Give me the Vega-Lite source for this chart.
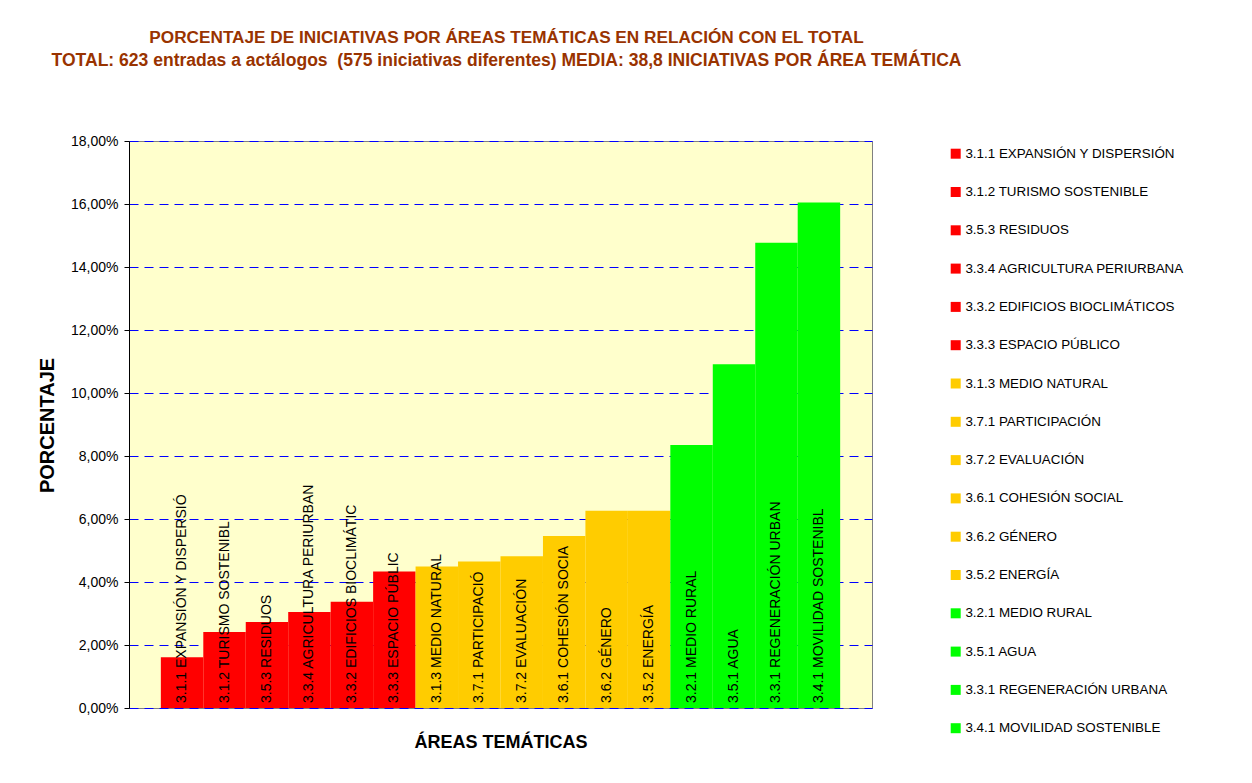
{
  "$schema": "https://vega.github.io/schema/vega-lite/v6.json",
  "width": 743,
  "height": 567,
  "autosize": {"type": "none"},
  "padding": {"left": 129, "top": 141, "right": 380, "bottom": 75},
  "background": "white",
  "title": {
    "text": "PORCENTAJE DE INICIATIVAS POR ÁREAS TEMÁTICAS EN RELACIÓN CON EL TOTAL",
    "subtitle": "TOTAL: 623 entradas a actálogos \u00a0(575 iniciativas diferentes) MEDIA: 38,8 INICIATIVAS POR ÁREA TEMÁTICA",
    "color": "#993300",
    "font": "Liberation Sans",
    "fontSize": 17.2,
    "fontWeight": "bold",
    "subtitleColor": "#993300",
    "subtitleFont": "Liberation Sans",
    "subtitleFontSize": 17.55,
    "subtitleFontWeight": "bold",
    "subtitlePadding": 6,
    "anchor": "middle",
    "frame": "group",
    "dx": 6,
    "offset": 64
  },
  "config": {
    "view": {"fill": "#FFFFCC", "stroke": "#808080", "strokeWidth": 1},
    "font": "Liberation Sans",
    "axisY": {
      "labelFont": "Liberation Sans",
      "labelFontSize": 14,
      "labelColor": "black",
      "labelPadding": 6,
      "tickColor": "black",
      "tickSize": 5,
      "domainColor": "black",
      "grid": true,
      "gridColor": "#0000FF",
      "gridDash": [9, 6],
      "gridOpacity": 1,
      "gridWidth": 1,
      "titleFont": "Liberation Sans",
      "titleFontSize": 20,
      "titleFontWeight": "bold",
      "titleColor": "black",
      "titleBaseline": "alphabetic",
      "titleX": -76,
      "titleY": 284
    }
  },
  "data": {
    "values": [
      {"area": "3.1.1 EXPANSIÓN Y DISPERSIÓN", "label": "3.1.1 EXPANSIÓN Y DISPERSIÓ", "pct": 0.0161, "grupo": "rojo"},
      {"area": "3.1.2 TURISMO SOSTENIBLE", "label": "3.1.2 TURISMO SOSTENIBL", "pct": 0.0241, "grupo": "rojo"},
      {"area": "3.5.3 RESIDUOS", "label": "3.5.3 RESIDUOS", "pct": 0.0273, "grupo": "rojo"},
      {"area": "3.3.4 AGRICULTURA PERIURBANA", "label": "3.3.4 AGRICULTURA PERIURBAN", "pct": 0.0305, "grupo": "rojo"},
      {"area": "3.3.2 EDIFICIOS BIOCLIMÁTICOS", "label": "3.3.2 EDIFICIOS BIOCLIMÁTIC", "pct": 0.0337, "grupo": "rojo"},
      {"area": "3.3.3 ESPACIO PÚBLICO", "label": "3.3.3 ESPACIO PÚBLIC", "pct": 0.0433, "grupo": "rojo"},
      {"area": "3.1.3 MEDIO NATURAL", "label": "3.1.3 MEDIO NATURAL", "pct": 0.0449, "grupo": "amarillo"},
      {"area": "3.7.1 PARTICIPACIÓN", "label": "3.7.1 PARTICIPACIÓ", "pct": 0.0465, "grupo": "amarillo"},
      {"area": "3.7.2 EVALUACIÓN", "label": "3.7.2 EVALUACIÓN", "pct": 0.0482, "grupo": "amarillo"},
      {"area": "3.6.1 COHESIÓN SOCIAL", "label": "3.6.1 COHESIÓN SOCIA", "pct": 0.0546, "grupo": "amarillo"},
      {"area": "3.6.2 GÉNERO", "label": "3.6.2 GÉNERO", "pct": 0.0626, "grupo": "amarillo"},
      {"area": "3.5.2 ENERGÍA", "label": "3.5.2 ENERGÍA", "pct": 0.0626, "grupo": "amarillo"},
      {"area": "3.2.1 MEDIO RURAL", "label": "3.2.1 MEDIO RURAL", "pct": 0.0835, "grupo": "verde"},
      {"area": "3.5.1 AGUA", "label": "3.5.1 AGUA", "pct": 0.1091, "grupo": "verde"},
      {"area": "3.3.1 REGENERACIÓN URBANA", "label": "3.3.1 REGENERACIÓN URBAN", "pct": 0.1477, "grupo": "verde"},
      {"area": "3.4.1 MOVILIDAD SOSTENIBLE", "label": "3.4.1 MOVILIDAD SOSTENIBL", "pct": 0.1605, "grupo": "verde"}
    ]
  },
  "encoding": {
    "x": {
      "field": "area",
      "type": "nominal",
      "sort": null,
      "scale": {"paddingInner": 0, "paddingOuter": 0.75},
      "axis": {
        "labels": false,
        "ticks": false,
        "domain": false,
        "title": "ÁREAS TEMÁTICAS",
        "titleFont": "Liberation Sans",
        "titleFontSize": 18,
        "titleFontWeight": "bold",
        "titleColor": "black",
        "titleBaseline": "alphabetic",
        "titleY": 39
      }
    }
  },
  "layer": [
    {
      "mark": {"type": "bar"},
      "encoding": {
        "y": {
          "field": "pct",
          "type": "quantitative",
          "title": "PORCENTAJE",
          "scale": {"domain": [0, 0.18], "nice": false},
          "axis": {
            "values": [0, 0.02, 0.04, 0.06, 0.08, 0.1, 0.12, 0.14, 0.16, 0.18],
            "labelExpr": "replace(format(datum.value, '.2%'), '.', ',')"
          }
        },
        "color": {
          "field": "area",
          "type": "nominal",
          "sort": null,
          "scale": {
            "domain": [
              "3.1.1 EXPANSIÓN Y DISPERSIÓN", "3.1.2 TURISMO SOSTENIBLE", "3.5.3 RESIDUOS", "3.3.4 AGRICULTURA PERIURBANA",
              "3.3.2 EDIFICIOS BIOCLIMÁTICOS", "3.3.3 ESPACIO PÚBLICO", "3.1.3 MEDIO NATURAL", "3.7.1 PARTICIPACIÓN",
              "3.7.2 EVALUACIÓN", "3.6.1 COHESIÓN SOCIAL", "3.6.2 GÉNERO", "3.5.2 ENERGÍA",
              "3.2.1 MEDIO RURAL", "3.5.1 AGUA", "3.3.1 REGENERACIÓN URBANA", "3.4.1 MOVILIDAD SOSTENIBLE"
            ],
            "range": [
              "#FF0000", "#FF0000", "#FF0000", "#FF0000", "#FF0000", "#FF0000",
              "#FFCC00", "#FFCC00", "#FFCC00", "#FFCC00", "#FFCC00", "#FFCC00",
              "#00FF00", "#00FF00", "#00FF00", "#00FF00"
            ]
          },
          "legend": {
            "orient": "none",
            "legendX": 820,
            "legendY": 6,
            "title": null,
            "symbolType": "square",
            "symbolSize": 100,
            "symbolStrokeWidth": 0,
            "symbolOpacity": 1,
            "labelFont": "Liberation Sans",
            "labelFontSize": 13.4,
            "labelColor": "black",
            "labelLimit": 400,
            "labelOffset": 3,
            "rowPadding": 23.3,
            "padding": 0
          }
        }
      }
    },
    {
      "mark": {"type": "text", "angle": 270, "align": "left", "baseline": "middle", "dx": 5, "font": "Liberation Sans", "fontSize": 14, "color": "black"},
      "encoding": {
        "y": {
          "datum": 0,
          "type": "quantitative",
          "title": "PORCENTAJE",
          "axis": {
            "values": [0, 0.02, 0.04, 0.06, 0.08, 0.1, 0.12, 0.14, 0.16, 0.18],
            "labelExpr": "replace(format(datum.value, '.2%'), '.', ',')"
          }
        },
        "text": {"field": "label"}
      }
    }
  ]
}
